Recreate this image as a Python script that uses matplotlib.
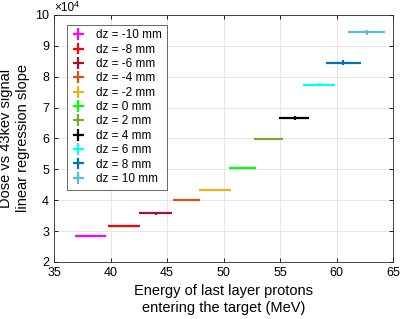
import numpy as np
import matplotlib.pyplot as plt

plt.rcParams['font.family'] = ['Liberation Sans', 'DejaVu Sans']

# data (y in units of 1e4)
labels = ['dz = -10 mm', 'dz = -8 mm', 'dz = -6 mm', 'dz = -4 mm', 'dz = -2 mm',
          'dz = 0 mm', 'dz = 2 mm', 'dz = 4 mm', 'dz = 6 mm', 'dz = 8 mm', 'dz = 10 mm']
energy = [38.2, 41.2, 44.0, 46.7, 49.2, 51.6, 54.0, 56.3, 58.5, 60.6, 62.7]
e_lo = [36.9, 39.8, 42.5, 45.5, 47.8, 50.5, 52.7, 54.9, 57.0, 59.1, 61.0]
e_hi = [39.6, 42.6, 45.4, 47.9, 50.7, 52.9, 55.3, 57.6, 59.9, 62.2, 64.3]
slope = [2.83, 3.16, 3.57, 4.00, 4.33, 5.03, 5.98, 6.67, 7.74, 8.46, 9.44]
slope_err = [0.02, 0.02, 0.04, 0.03, 0.03, 0.03, 0.04, 0.06, 0.05, 0.08, 0.08]
colors = ['#ff00ff', '#ff0000', '#a2142f', '#d95319', '#edb120', '#00ff00',
          '#77ac30', '#000000', '#00ffff', '#0072bd', '#4dbeee']

fig = plt.figure(figsize=(4.0, 3.19), dpi=100)
ax = fig.add_axes([0.135, 0.179, 0.8475, 0.774])

for i in range(len(labels)):
    xerr = [[energy[i] - e_lo[i]], [e_hi[i] - energy[i]]]
    ax.errorbar([energy[i]], [slope[i]], xerr=xerr, yerr=[slope_err[i]],
                fmt='none', ecolor=colors[i], elinewidth=1.6, capsize=0,
                label=labels[i])

ax.set_xlim(35, 65)
ax.set_ylim(2, 10)
ax.set_xticks(np.arange(35, 66, 5))
ax.set_yticks(np.arange(2, 11, 1))
ax.tick_params(direction='in', labelsize=9, length=3, width=0.6, top=True, right=True)
ax.grid(True, color='#e6e6e6', linewidth=0.7)
ax.set_axisbelow(True)
for s in ax.spines.values():
    s.set_color('#262626')
    s.set_linewidth(0.6)

# exponent label, MATLAB style
ax.annotate('\u00d710', xy=(0, 1), xycoords='axes fraction', xytext=(0, 0.5),
            textcoords='offset points', fontsize=8.5, ha='left', va='bottom')
ax.annotate('4', xy=(0, 1), xycoords='axes fraction', xytext=(14, 4.5),
            textcoords='offset points', fontsize=6.5, ha='left', va='bottom')

ax.set_xlabel('Energy of last layer protons\nentering the target (MeV)', fontsize=10.5)
ax.set_ylabel('Dose vs 43kev signal\nlinear regression slope', fontsize=10.5)

leg = ax.legend(loc='upper left', fontsize=8.5, frameon=True, fancybox=False,
                edgecolor='#262626', borderpad=0.4, labelspacing=0.2,
                handlelength=1.2, handletextpad=0.9, bbox_to_anchor=(0.02, 0.985))
leg.get_frame().set_linewidth(0.6)

plt.savefig('out.png', dpi=100)
